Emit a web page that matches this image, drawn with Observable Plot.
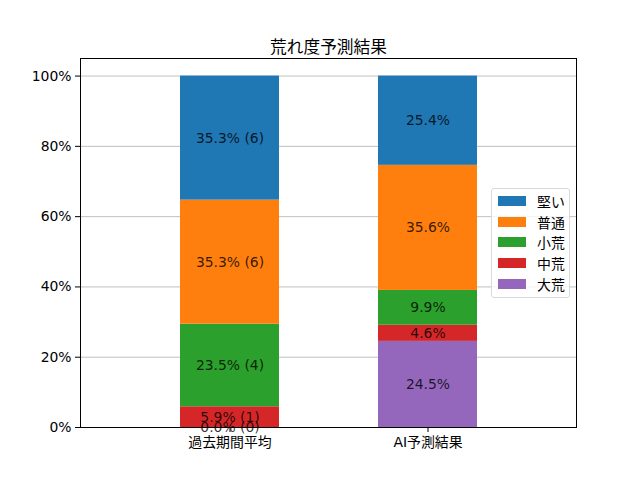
<!DOCTYPE html>
<html>
<head>
<meta charset="utf-8">
<script src="https://cdn.jsdelivr.net/npm/d3@7"></script>
<script src="https://cdn.jsdelivr.net/npm/@observablehq/plot@0.6"></script>
<style>
  body { margin: 0; background: white; }
  #wrap { position: relative; width: 640px; height: 480px; font-family: "DejaVu Sans", "Noto Sans CJK JP", sans-serif; }
  #legend { position: absolute; left: 491px; top: 188px; width: 79px; box-sizing: border-box; border: 1px solid #d9d9d9; border-radius: 3px; background: rgba(255,255,255,0.8); padding: 2px 0 3px 0; font-size: 13.9px; }
  .row { display: flex; align-items: center; height: 20.6px; }
  .sw { width: 28px; height: 10px; margin-left: 6px; margin-right: 11px; }
</style>
</head>
<body>
<div id="wrap"></div>
<script>
const title = "荒れ度予測結果";
const categories = ["過去期間平均", "AI予測結果"];
const seriesNames = ["大荒", "中荒", "小荒", "普通", "堅い"]; // bottom to top
const seriesColors = ["#9467bd", "#d62728", "#2ca02c", "#ff7f0e", "#1f77b4"];
const pastPct = [0.0, 5.9, 23.5, 35.3, 35.3];
const pastCount = [0, 1, 4, 6, 6];
const aiPct = [24.5, 4.6, 9.9, 35.6, 25.4];
const yTicks = [0, 20, 40, 60, 80, 100];

const data = [];
seriesNames.forEach((s, i) => data.push({cat: categories[0], series: s, value: pastPct[i], label: `${pastPct[i].toFixed(1)}% (${pastCount[i]})`}));
seriesNames.forEach((s, i) => data.push({cat: categories[1], series: s, value: aiPct[i], label: `${aiPct[i].toFixed(1)}%`}));

const chart = Plot.plot({
  width: 640,
  height: 480,
  marginTop: 58,
  marginBottom: 53,
  marginLeft: 80,
  marginRight: 64,
  style: {fontFamily: '"DejaVu Sans", "Noto Sans CJK JP", sans-serif', fontSize: "13.9px", background: "white", color: "black"},
  x: {type: "band", domain: categories, padding: 0.5, label: null, tickSize: 5, tickPadding: 5},
  y: {domain: [0, 105], ticks: yTicks, tickFormat: d => d + "%", label: null, tickSize: 5, tickPadding: 4},
  color: {domain: seriesNames, range: seriesColors},
  marks: [
    Plot.ruleY(yTicks, {stroke: "#b0b0b0", strokeWidth: 0.8}),
    Plot.barY(data, {x: "cat", y: "value", fill: "series", inset: 0}),
    Plot.text(data, Plot.stackY({x: "cat", y: "value", text: "label", fill: "black", fillOpacity: 0.8, fontSize: 13.9})),
    Plot.frame({stroke: "black", strokeWidth: 1}),
    Plot.text([title], {frameAnchor: "top", text: d => d, dy: -17, fontSize: 16.7, fill: "black"})
  ]
});

const wrap = document.getElementById("wrap");
wrap.appendChild(chart);

const legend = document.createElement("div");
legend.id = "legend";
seriesNames.slice().reverse().forEach((s) => {
  const row = document.createElement("div");
  row.className = "row";
  const sw = document.createElement("div");
  sw.className = "sw";
  sw.style.background = seriesColors[seriesNames.indexOf(s)];
  const t = document.createElement("span");
  t.textContent = s;
  row.appendChild(sw);
  row.appendChild(t);
  legend.appendChild(row);
});
wrap.appendChild(legend);
</script>
</body>
</html>
